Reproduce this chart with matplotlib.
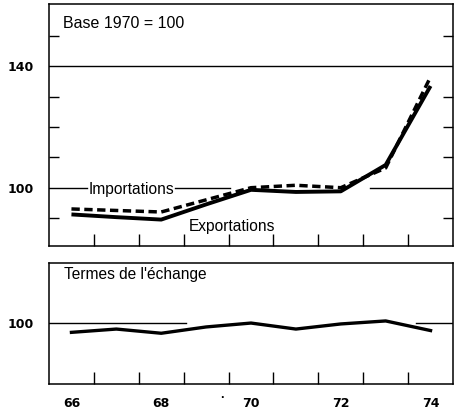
import matplotlib
matplotlib.use("Agg")
import matplotlib.pyplot as plt

years = [66, 67, 68, 69, 70, 71, 72, 73, 74]
exportations = [91.2, 90.3, 89.5, 94.5, 99.3, 98.6, 98.8, 107.5, 133.5]
importations = [93.0, 92.5, 92.0, 96.0, 100.0, 100.8, 100.0, 106.5, 136.5]
termes = [96.9, 98.0, 96.6, 98.7, 100.0, 98.0, 99.7, 100.7, 97.5]

year_labels = ["66", "68", "70", "72", "74"]
year_label_pos = [66, 68, 70, 72, 74]
top_labels = ["100", "140"]
top_label_pos = [100, 140]
top_minor = [90, 110, 120, 130, 150]
bottom_labels = ["100"]
bottom_label_pos = [100]
half_years = [66.5, 67.5, 68.5, 69.5, 70.5, 71.5, 72.5, 73.5]

plt.rcParams['font.family'] = ['Liberation Sans', 'DejaVu Sans']

fig = plt.figure(figsize=(4.56, 4.11), dpi=100)
ax1 = fig.add_axes([49/456, 1-246/411, 404/456, 242/411])
ax2 = fig.add_axes([49/456, 1-384/411, 404/456, 121/411])

tickfont = dict(family='DejaVu Sans', weight='bold', size=9)

for ax in (ax1, ax2):
    ax.set_xlim(65.5, 74.5)
    for s in ax.spines.values():
        s.set_linewidth(1.1)
        s.set_color('black')
    ax.set_xticks(year_label_pos)
    ax.set_xticks(half_years, minor=True)
    ax.tick_params(axis='x', which='major', length=0, pad=9)
    ax.tick_params(axis='x', which='minor', direction='in', length=9, width=1.0,
                   bottom=True, top=False)
    ax.tick_params(axis='y', which='major', length=0, pad=11)

# Top panel
ax1.set_ylim(80.8, 160.5)
ax1.set_yticks(top_label_pos)
ax1.set_yticklabels(top_labels, **tickfont)
ax1.set_yticks(top_minor, minor=True)
ax1.tick_params(axis='y', which='minor', direction='in', length=7, width=1.0,
                left=True, right=True)
ax1.set_xticklabels([])
ax1.axhline(140, color='black', lw=1.0, zorder=1)
ax1.axhline(100, xmin=0.0, xmax=0.095, color='black', lw=1.0, zorder=1)
ax1.axhline(100, xmin=0.312, xmax=0.448, color='black', lw=1.0, zorder=1)
ax1.axhline(100, xmin=0.795, xmax=1.0, color='black', lw=1.0, zorder=1)

ax1.plot(years, exportations, color='black', lw=2.8, solid_capstyle='butt',
         solid_joinstyle='round', zorder=3)
ax1.plot(years, importations, color='black', lw=2.5, linestyle=(0, (2.4, 1.3)),
         dash_capstyle='butt', zorder=3)

ax1.text(0.035, 0.90, "Base 1970 = 100", transform=ax1.transAxes,
         fontsize=11.5, va='baseline', ha='left')
ax1.text(66.38, 97.9, "Importations", fontsize=11.2, va='baseline', ha='left')
ax1.text(68.61, 85.9, "Exportations", fontsize=11.2, va='baseline', ha='left')

# Bottom panel
ax2.set_ylim(79.7, 120.0)
ax2.set_yticks(bottom_label_pos)
ax2.set_yticklabels(bottom_labels, **tickfont)
ax2.set_xticklabels(year_labels, **tickfont)
ax2.axhline(100, xmin=0.0, xmax=0.339, color='black', lw=1.0, zorder=1)
ax2.axhline(100, xmin=0.908, xmax=1.0, color='black', lw=1.0, zorder=1)
ax2.plot(years, termes, color='black', lw=2.4, solid_joinstyle='round', zorder=3)
ax2.text(0.037, 0.865, "Termes de l'échange", transform=ax2.transAxes,
         fontsize=11.2, va='baseline', ha='left')

fig.text(222/456, 1-398/411, "·", fontsize=9, weight='bold', ha='center', va='center')

fig.savefig("out.png", dpi=100)
